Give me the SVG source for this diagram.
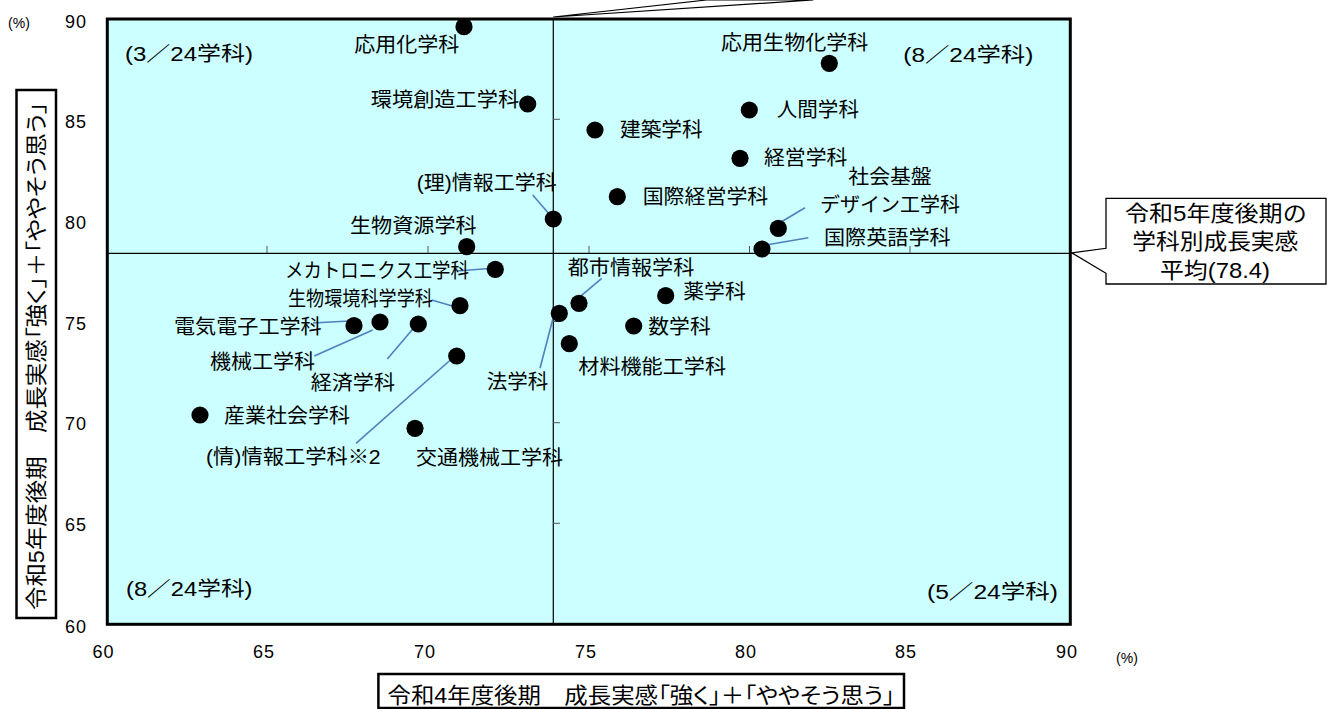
<svg xmlns="http://www.w3.org/2000/svg" width="1331" height="709" viewBox="0 0 1331 709">
<style>
text{font-family:"Liberation Sans","Noto Sans CJK JP",sans-serif;fill:#000;}
.lb{font-size:20px;}
.ttl{font-size:21.5px;font-feature-settings:"palt";}
.num{font-size:18px;}
.pct{font-size:14px;}
.q{font-size:20px;}
.co{font-size:22px;}
.dot{fill:#000;}
.ld{stroke:#4F81BD;stroke-width:1.6;fill:none;}
.tk{stroke:#555;stroke-width:1;}
</style>
<rect width="1331" height="709" fill="#fff"/>
<g id="plot">
<rect x="107.3" y="19" width="963" height="605.3" fill="#CCFFFF" stroke="#000" stroke-width="3"/>
<line x1="553.3" y1="19" x2="553.3" y2="624" stroke="#000" stroke-width="1.2"/>
<line x1="107" y1="253.3" x2="1071" y2="253.3" stroke="#000" stroke-width="1.2"/>
<g id="ticks">
<line class="tk" x1="267" y1="246" x2="267" y2="253"/>
<line class="tk" x1="428" y1="246" x2="428" y2="253"/>
<line class="tk" x1="589" y1="246" x2="589" y2="253"/>
<line class="tk" x1="749.5" y1="246" x2="749.5" y2="253"/>
<line class="tk" x1="910" y1="246" x2="910" y2="253"/>
<line class="tk" x1="553" y1="119.3" x2="560" y2="119.3"/>
<line class="tk" x1="553" y1="221.4" x2="560" y2="221.4"/>
<line class="tk" x1="553" y1="321.5" x2="560" y2="321.5"/>
<line class="tk" x1="553" y1="422.7" x2="560" y2="422.7"/>
<line class="tk" x1="553" y1="523.3" x2="560" y2="523.3"/>
</g>
</g>
<g id="axis-labels">
<text class="num" x="87" y="27.5" text-anchor="end" letter-spacing="1">90</text>
<text class="num" x="87" y="128" text-anchor="end" letter-spacing="1">85</text>
<text class="num" x="87" y="228.8" text-anchor="end" letter-spacing="1">80</text>
<text class="num" x="87" y="329.5" text-anchor="end" letter-spacing="1">75</text>
<text class="num" x="87" y="430" text-anchor="end" letter-spacing="1">70</text>
<text class="num" x="87" y="531" text-anchor="end" letter-spacing="1">65</text>
<text class="num" x="87" y="632.5" text-anchor="end" letter-spacing="1">60</text>
<text class="num" x="103.5" y="657.5" text-anchor="middle" letter-spacing="1">60</text>
<text class="num" x="264" y="657.5" text-anchor="middle" letter-spacing="1">65</text>
<text class="num" x="425" y="657.5" text-anchor="middle" letter-spacing="1">70</text>
<text class="num" x="586" y="657.5" text-anchor="middle" letter-spacing="1">75</text>
<text class="num" x="746" y="657.5" text-anchor="middle" letter-spacing="1">80</text>
<text class="num" x="906" y="657.5" text-anchor="middle" letter-spacing="1">85</text>
<text class="num" x="1067" y="657.5" text-anchor="middle" letter-spacing="1">90</text>
<text class="pct" x="19" y="28" text-anchor="middle">(%)</text>
<text class="pct" x="1127" y="663" text-anchor="middle">(%)</text>
</g>
<g id="y-title">
<rect x="16.5" y="90" width="39.5" height="528" fill="#fff" stroke="#000" stroke-width="2.5"/>
<text class="ttl" transform="translate(36.5,356) rotate(-90)" x="0" y="7.5" text-anchor="middle" textLength="508" lengthAdjust="spacingAndGlyphs">令和5年度後期　成長実感「強く」＋「ややそう思う」</text>
</g>
<g id="x-title">
<rect x="378.4" y="674" width="525.6" height="34" fill="#fff" stroke="#000" stroke-width="2.5"/>
<text class="ttl" x="387.5" y="702.5" textLength="507.5" lengthAdjust="spacingAndGlyphs">令和4年度後期　成長実感「強く」＋「ややそう思う」</text>
</g>
<g id="quadrants">
<text class="q" x="125" y="60.5" textLength="128" lengthAdjust="spacingAndGlyphs">(3／24学科)</text>
<text class="q" x="903.3" y="62" textLength="130" lengthAdjust="spacingAndGlyphs">(8／24学科)</text>
<text class="q" x="126" y="596" textLength="126.5" lengthAdjust="spacingAndGlyphs">(8／24学科)</text>
<text class="q" x="927" y="599" textLength="131" lengthAdjust="spacingAndGlyphs">(5／24学科)</text>
</g>
<g id="avg-x-callout">
<polygon points="706.7,0 553.3,17 813.3,0" fill="#fff" stroke="#000" stroke-width="1.2"/>
</g>
<g id="avg-y-callout">
<path d="M1106,198.3 H1326 V284 H1106 V273.3 L1071.7,252.8 L1106,248.3 Z" fill="#fff" stroke="#000" stroke-width="1.3"/>
<text class="co" x="1125" y="220.5" textLength="181.7" lengthAdjust="spacingAndGlyphs">令和5年度後期の</text>
<text class="co" x="1132.3" y="249" textLength="166" lengthAdjust="spacingAndGlyphs">学科別成長実感</text>
<text class="co" x="1160" y="277.5" textLength="110" lengthAdjust="spacingAndGlyphs">平均(78.4)</text>
</g>
<g id="connectors">
<line class="ld" x1="532.7" y1="195" x2="555" y2="220.7"/>
<line class="ld" x1="805" y1="207.7" x2="779" y2="223.3"/>
<line class="ld" x1="808.3" y1="237.7" x2="766" y2="245"/>
<line class="ld" x1="456.7" y1="271" x2="493" y2="268.3"/>
<line class="ld" x1="601.7" y1="278.3" x2="579" y2="297.7"/>
<line class="ld" x1="431.7" y1="300" x2="458.3" y2="307.7"/>
<line class="ld" x1="313" y1="323" x2="349.3" y2="321"/>
<line class="ld" x1="314.3" y1="356" x2="372.7" y2="330"/>
<line class="ld" x1="387.3" y1="359" x2="414.3" y2="327.3"/>
<line class="ld" x1="540" y1="368.3" x2="555" y2="310.7"/>
<line class="ld" x1="356" y1="443.3" x2="456" y2="355"/>
</g>
<g id="n-oyoukagaku"><circle class="dot" cx="464" cy="26.7" r="8.6"/><text class="lb" x="354.3" y="52" textLength="105" lengthAdjust="spacingAndGlyphs">応用化学科</text></g>
<g id="n-oyouseibutsu"><circle class="dot" cx="829.3" cy="63.3" r="8.6"/><text class="lb" x="721" y="50.3" textLength="147.3" lengthAdjust="spacingAndGlyphs">応用生物化学科</text></g>
<g id="n-kankyousouzou"><circle class="dot" cx="527.7" cy="104" r="8.6"/><text class="lb" x="370.7" y="107" textLength="148.6" lengthAdjust="spacingAndGlyphs">環境創造工学科</text></g>
<g id="n-ningen"><circle class="dot" cx="749.3" cy="110" r="8.6"/><text class="lb" x="776.7" y="117" textLength="82.3" lengthAdjust="spacingAndGlyphs">人間学科</text></g>
<g id="n-kenchiku"><circle class="dot" cx="595" cy="130" r="8.6"/><text class="lb" x="620" y="137" textLength="82.7" lengthAdjust="spacingAndGlyphs">建築学科</text></g>
<g id="n-keiei"><circle class="dot" cx="740" cy="158.3" r="8.6"/><text class="lb" x="764" y="165.3" textLength="83.3" lengthAdjust="spacingAndGlyphs">経営学科</text></g>
<g id="n-kokusaikeiei"><circle class="dot" cx="617.3" cy="196.7" r="8.6"/><text class="lb" x="642.7" y="203.7" textLength="125.6" lengthAdjust="spacingAndGlyphs">国際経営学科</text></g>
<g id="n-ri-jouhou"><circle class="dot" cx="553.3" cy="219" r="8.6"/><text class="lb" x="416.7" y="190.3" textLength="140" lengthAdjust="spacingAndGlyphs">(理)情報工学科</text></g>
<g id="n-shakaikiban"><circle class="dot" cx="778.3" cy="228.3" r="8.6"/><text class="lb" x="848.3" y="183.7" textLength="83.4" lengthAdjust="spacingAndGlyphs">社会基盤</text><text class="lb" x="820" y="212" textLength="140" lengthAdjust="spacingAndGlyphs">デザイン工学科</text></g>
<g id="n-seibutsushigen"><circle class="dot" cx="466.7" cy="246.7" r="8.6"/><text class="lb" x="350" y="233" textLength="126.7" lengthAdjust="spacingAndGlyphs">生物資源学科</text></g>
<g id="n-kokusaieigo"><circle class="dot" cx="762" cy="249" r="8.6"/><text class="lb" x="824" y="244.5" textLength="126.7" lengthAdjust="spacingAndGlyphs">国際英語学科</text></g>
<g id="n-mechatronics"><circle class="dot" cx="495.3" cy="269.3" r="8.6"/><text class="lb" x="285" y="278" textLength="184" lengthAdjust="spacingAndGlyphs">メカトロニクス工学科</text></g>
<g id="n-toshijouhou"><circle class="dot" cx="579" cy="303.3" r="8.6"/><text class="lb" x="567.7" y="275.3" textLength="126.6" lengthAdjust="spacingAndGlyphs">都市情報学科</text></g>
<g id="n-yakugaku"><circle class="dot" cx="665.7" cy="295.7" r="8.6"/><text class="lb" x="683.3" y="298.7" textLength="62.4" lengthAdjust="spacingAndGlyphs">薬学科</text></g>
<g id="n-seibutsukankyou"><circle class="dot" cx="460" cy="305.7" r="8.6"/><text class="lb" x="288" y="306.3" textLength="145" lengthAdjust="spacingAndGlyphs">生物環境科学学科</text></g>
<g id="n-hougaku"><circle class="dot" cx="559.3" cy="313.3" r="8.6"/><text class="lb" x="486.7" y="388.7" textLength="61.6" lengthAdjust="spacingAndGlyphs">法学科</text></g>
<g id="n-denkidenshi"><circle class="dot" cx="354" cy="325.7" r="8.6"/><text class="lb" x="174" y="333.7" textLength="147.7" lengthAdjust="spacingAndGlyphs">電気電子工学科</text></g>
<g id="n-kikai"><circle class="dot" cx="380" cy="322" r="8.6"/><text class="lb" x="210" y="368.7" textLength="105" lengthAdjust="spacingAndGlyphs">機械工学科</text></g>
<g id="n-keizai"><circle class="dot" cx="418.3" cy="324" r="8.6"/><text class="lb" x="310.7" y="390.3" textLength="84.3" lengthAdjust="spacingAndGlyphs">経済学科</text></g>
<g id="n-suugaku"><circle class="dot" cx="633.7" cy="326" r="8.6"/><text class="lb" x="648.3" y="333.7" textLength="62.4" lengthAdjust="spacingAndGlyphs">数学科</text></g>
<g id="n-zairyoukinou"><circle class="dot" cx="569.3" cy="343.7" r="8.6"/><text class="lb" x="578.3" y="373.7" textLength="147.7" lengthAdjust="spacingAndGlyphs">材料機能工学科</text></g>
<g id="n-jou-jouhou"><circle class="dot" cx="456.7" cy="356" r="8.6"/><text class="lb" x="206" y="463.7" textLength="174.7" lengthAdjust="spacingAndGlyphs">(情)情報工学科※2</text></g>
<g id="n-sangyoushakai"><circle class="dot" cx="200" cy="415" r="8.6"/><text class="lb" x="224" y="422.7" textLength="126" lengthAdjust="spacingAndGlyphs">産業社会学科</text></g>
<g id="n-koutsuukikai"><circle class="dot" cx="415" cy="428.3" r="8.6"/><text class="lb" x="416" y="465.3" textLength="147" lengthAdjust="spacingAndGlyphs">交通機械工学科</text></g>
</svg>
